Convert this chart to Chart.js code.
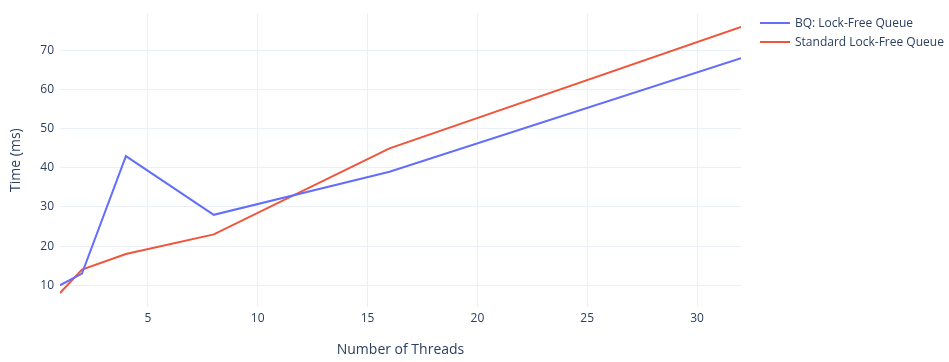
<!DOCTYPE html>
<html>
<head>
<meta charset="utf-8">
<script src="https://cdn.jsdelivr.net/npm/chart.js@4/dist/chart.umd.min.js"></script>
<style>
  body { margin: 0; background: #fff; }
  #wrap { position: relative; width: 949px; height: 362px; }
  #legend { position: absolute; left: 760px; top: 13px; font-family: "Open Sans", sans-serif; font-size: 12px; color: #2a3f5f; }
  .item { display: flex; align-items: center; height: 19px; }
  .swatch { width: 30px; height: 2px; margin-right: 5px; }
</style>
</head>
<body>
<div id="wrap">
  <canvas id="myChart" width="949" height="362"></canvas>
  <div id="legend"></div>
</div>
<script>
// number of threads on the x axis
const threads = [1, 2, 4, 8, 16, 32];
// time in ms for each queue
const bqTimes = [10, 13, 43, 28, 39, 68];
const standardTimes = [8, 14, 18, 23, 45, 76];
const seriesNames = ["BQ: Lock-Free Queue", "Standard Lock-Free Queue"];
const seriesColors = ["#636efa", "#EF553B"];
const xTicks = [5, 10, 15, 20, 25, 30];
const yTicks = [10, 20, 30, 40, 50, 60, 70];

const font = "'Open Sans', sans-serif";
const textColor = "#2a3f5f";
const gridColor = "#ebf0f8";

function toPoints(values) {
  return threads.map((t, i) => ({ x: t, y: values[i] }));
}

const myChart = document.getElementById("myChart");

let lineChart = new Chart(myChart, {
  type: 'line',
  data: {
    datasets: [
      { label: seriesNames[0], data: toPoints(bqTimes), borderColor: seriesColors[0], borderWidth: 2, pointRadius: 0, tension: 0, fill: false },
      { label: seriesNames[1], data: toPoints(standardTimes), borderColor: seriesColors[1], borderWidth: 2, pointRadius: 0, tension: 0, fill: false }
    ]
  },
  options: {
    responsive: false,
    animation: false,
    layout: { padding: { top: 10, right: 208, left: 0, bottom: 0 } },
    plugins: { legend: { display: false }, tooltip: { enabled: false } },
    scales: {
      x: {
        type: 'linear',
        min: 1,
        max: 32,
        afterBuildTicks: axis => { axis.ticks = xTicks.map(v => ({ value: v })); },
        afterFit: axis => { axis.height = 55; },
        grid: { color: gridColor, drawTicks: false },
        border: { display: false },
        ticks: { color: textColor, font: { family: font, size: 12 }, padding: 4 },
        title: { display: true, text: "Number of Threads", color: textColor, font: { family: font, size: 14 }, padding: { top: 14 } }
      },
      y: {
        min: 4.44,
        max: 79.53,
        afterBuildTicks: axis => { axis.ticks = yTicks.map(v => ({ value: v })); },
        afterFit: axis => { axis.width = 60; },
        grid: { color: gridColor, drawTicks: false },
        border: { display: false },
        ticks: { color: textColor, font: { family: font, size: 12 }, padding: 6 },
        title: { display: true, text: "Time (ms)", color: textColor, font: { family: font, size: 14 }, padding: { bottom: 0, top: 8 } }
      }
    }
  }
});

// legend drawn as html next to the plot
const legend = document.getElementById("legend");
seriesNames.forEach((name, i) => {
  legend.innerHTML += '<div class="item"><span class="swatch" style="background:' + seriesColors[i] + '"></span>' + name + '</div>';
});
</script>
</body>
</html>
